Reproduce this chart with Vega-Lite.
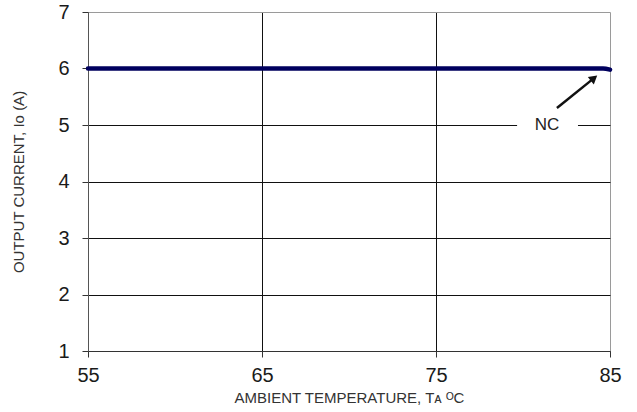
{
  "$schema": "https://vega.github.io/schema/vega-lite/v6.json",
  "width": 522,
  "height": 339,
  "autosize": "none",
  "padding": {"left": 88, "top": 12, "right": 27, "bottom": 61},
  "background": "white",
  "config": {
    "view": {"stroke": null},
    "axis": {
      "labelFont": "Liberation Sans",
      "labelFontSize": 20,
      "labelColor": "#1a1a1a",
      "titleFont": "Liberation Sans",
      "titleFontSize": 15,
      "titleFontWeight": "normal",
      "titleColor": "#333333",
      "tickColor": "#333333",
      "tickSize": 6,
      "gridWidth": 1
    }
  },
  "datasets": {
    "curve": [
      {"temp": 55, "current": 6},
      {"temp": 84.6, "current": 6},
      {"temp": 85, "current": 5.98}
    ],
    "arrow": [
      {"x": 81.95, "y": 5.3, "x2": 84.08, "y2": 5.83}
    ],
    "head": [
      {"x": 84.08, "y": 5.83}
    ],
    "label": [
      {"x": 81.38, "y": 5.0, "text": "NC", "x1": 79.66, "x2": 83.16}
    ]
  },
  "layer": [
    {
      "data": {"name": "label"},
      "mark": {"type": "rule", "color": "white", "strokeWidth": 4},
      "encoding": {
        "x": {
          "field": "x1",
          "type": "quantitative",
          "scale": {"domain": [55, 85], "nice": false, "zero": false},
          "axis": {
            "values": [55, 65, 75, 85],
            "format": "d",
            "title": "AMBIENT TEMPERATURE, Tᴀ ᴼC",
            "grid": true,
            "gridColor": {"condition": {"test": "datum.value === 85", "value": "#9a9a9a"}, "value": "#111111"},
            "domainColor": "#333333",
            "labelPadding": 8,
            "titlePadding": 5,
            "labelFlush": false
          }
        },
        "x2": {"field": "x2"},
        "y": {
          "field": "y",
          "type": "quantitative",
          "scale": {"domain": [1, 7], "nice": false, "zero": false},
          "axis": {
            "values": [1, 2, 3, 4, 5, 6, 7],
            "format": "d",
            "title": "OUTPUT CURRENT, Io  (A)",
            "grid": true,
            "gridColor": {"condition": {"test": "datum.value === 7", "value": "#9a9a9a"}, "value": "#111111"},
            "domainColor": "#555555",
            "labelPadding": 13,
            "titlePadding": 31
          }
        }
      }
    },
    {
      "data": {"name": "curve"},
      "mark": {"type": "line", "color": "#00005e", "strokeWidth": 4.5, "strokeCap": "round", "interpolate": "monotone"},
      "encoding": {
        "x": {"field": "temp", "type": "quantitative"},
        "y": {"field": "current", "type": "quantitative"}
      }
    },
    {
      "data": {"name": "arrow"},
      "mark": {"type": "rule", "color": "#111111", "strokeWidth": 2.5},
      "encoding": {
        "x": {"field": "x", "type": "quantitative"},
        "y": {"field": "y", "type": "quantitative"},
        "x2": {"field": "x2"},
        "y2": {"field": "y2"}
      }
    },
    {
      "data": {"name": "head"},
      "mark": {"type": "point", "shape": "triangle-up", "filled": true, "color": "#111111", "size": 90, "angle": 51, "opacity": 1},
      "encoding": {
        "x": {"field": "x", "type": "quantitative"},
        "y": {"field": "y", "type": "quantitative"}
      }
    },
    {
      "data": {"name": "label"},
      "mark": {"type": "text", "font": "Liberation Sans", "fontSize": 17, "color": "#222222", "align": "center", "baseline": "middle"},
      "encoding": {
        "x": {"field": "x", "type": "quantitative"},
        "y": {"field": "y", "type": "quantitative"},
        "text": {"field": "text"}
      }
    }
  ]
}
